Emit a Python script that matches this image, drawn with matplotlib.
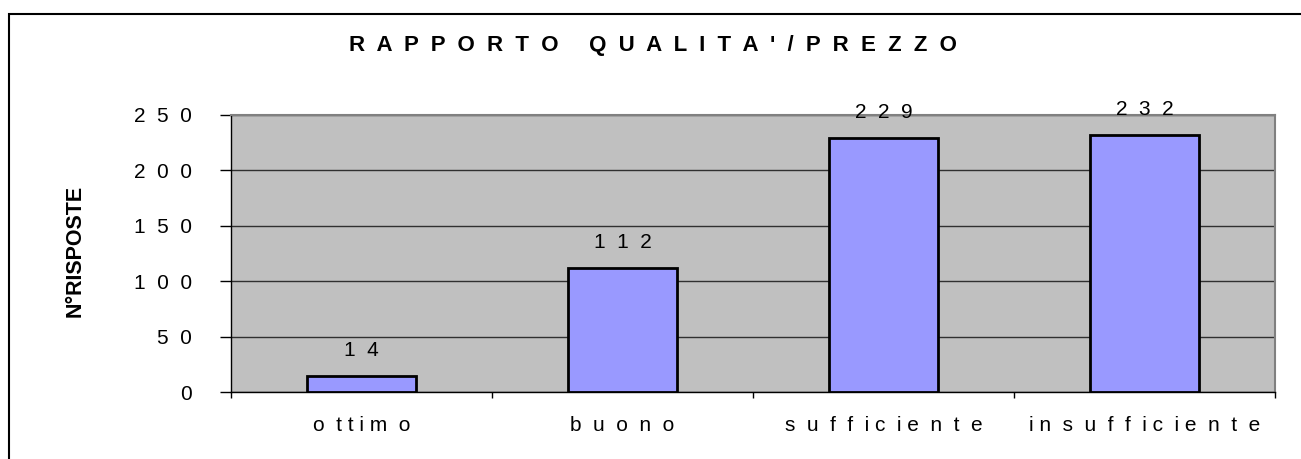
import matplotlib.pyplot as plt
import numpy as np
from matplotlib.patches import Rectangle

plt.rcParams['font.family'] = ['Liberation Sans', 'DejaVu Sans']

categories = ["o  t t i m  o", "b  u  o  n  o", "s  u  f  f  i c  i e  n  t  e", "i n  s  u  f  f  i c  i e  n  t  e"]
values = [14, 112, 229, 232]
yticks = [0, 50, 100, 150, 200, 250]
title = "RAPPORTO QUALITA'/PREZZO"
ylabel = "N°RISPOSTE"


def spaced(s, gap="  "):
    # fake letter spacing like the old excel export
    return gap.join(s)


fig = plt.figure(figsize=(13.01, 4.59), dpi=100)
ax = fig.add_axes([231 / 1301, 1 - 392 / 459, (1275 - 231) / 1301, (392 - 115) / 459])

x = np.arange(len(values))
ax.set_facecolor("#C0C0C0")
ax.bar(x, values, width=0.42, color="#9999FF", edgecolor="black", linewidth=2.0, zorder=3)
for xi, v in zip(x, values):
    ax.annotate(spaced(str(v)), (xi, v), xytext=(0, 14.5), textcoords="offset points",
                ha="center", va="baseline", fontsize=15)

ax.set_xlim(-0.5, len(values) - 0.5)
ax.set_ylim(0, 250)
ax.set_yticks(yticks)
ax.set_yticklabels([spaced(str(t)) for t in yticks], fontsize=15)
ax.yaxis.grid(True, color="#303030", linewidth=1.0, zorder=1)
ax.tick_params(axis="y", length=8, width=1, pad=20)

ax.set_xticks(x)
ax.set_xticklabels(categories, fontsize=15)
ax.set_xticks(np.arange(len(values) + 1) - 0.5, minor=True)
ax.tick_params(axis="x", which="major", length=0, pad=17)
ax.tick_params(axis="x", which="minor", length=4, width=1)

for s in ["top", "right"]:
    ax.spines[s].set_color("#808080")
    ax.spines[s].set_linewidth(1.5)
for s in ["left", "bottom"]:
    ax.spines[s].set_color("black")
    ax.spines[s].set_linewidth(1.0)

fig.text(653 / 1301, 1 - 45 / 459, spaced(title), ha="center", va="center",
         fontsize=16, fontweight="bold")
fig.text(75 / 1301, 1 - 251 / 459, ylabel, rotation=90, ha="center", va="center",
         fontsize=15.5, fontweight="bold")

# outer frame, only left and top show up in the picture
fig.patches.append(Rectangle((9 / 1301, -0.1), 1.2, 1 - 14 / 459 + 0.1, transform=fig.transFigure,
                             fill=False, edgecolor="black", linewidth=1.5))

fig.savefig("out.png", dpi=100)
